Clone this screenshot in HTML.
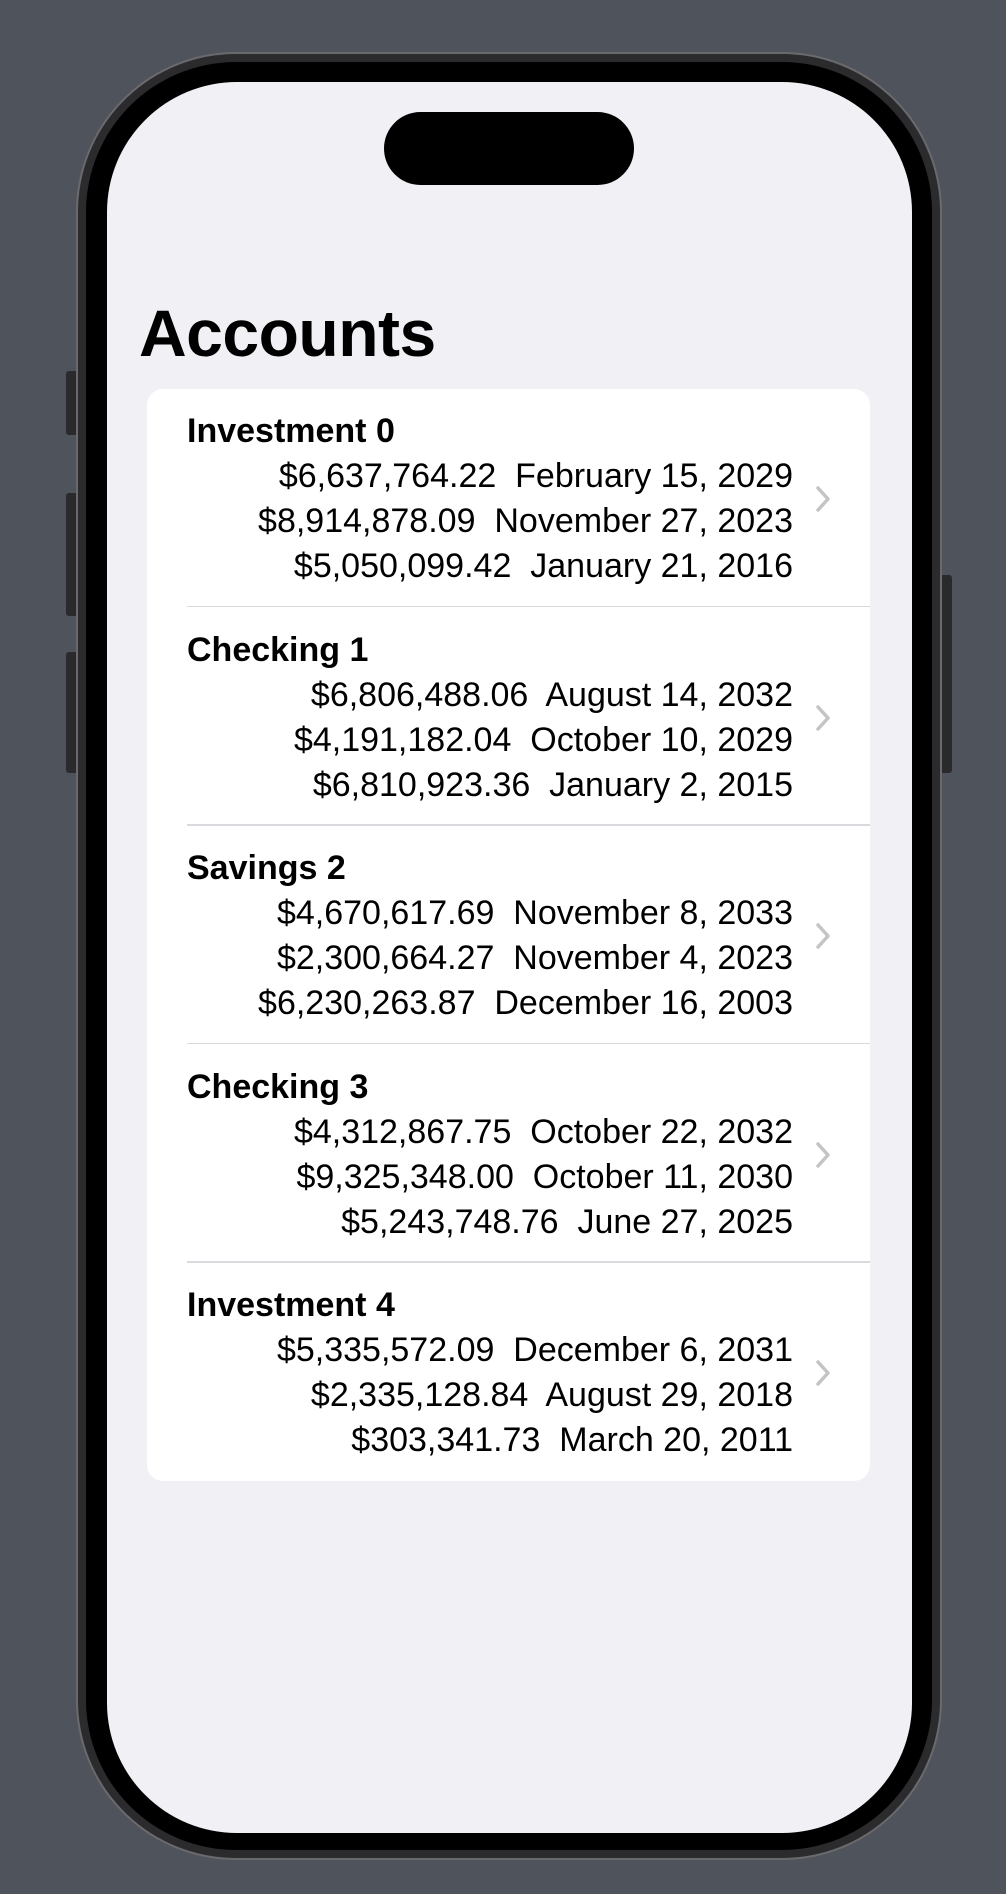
<!DOCTYPE html>
<html><head><meta charset="utf-8"><style>
*{margin:0;padding:0;box-sizing:border-box}
body{width:1006px;height:1894px;background:#4f535b;position:relative;overflow:hidden;font-family:"Liberation Sans",sans-serif;color:#000}
.abs{position:absolute}
.btn{position:absolute;background:#2a2a2c;border-radius:3px}
.row{position:absolute;left:0;width:723px;height:218px}
.name{position:absolute;left:40px;top:20px;font-size:34px;font-weight:bold;line-height:45px;white-space:nowrap}
.vals{position:absolute;right:77px;top:65px;font-size:34px;line-height:45px;text-align:right;white-space:pre}
.sep{position:absolute;left:40px;right:0;bottom:0;height:1.5px;background:#d9d9de}
.chev{position:absolute;left:667px;top:96px}
</style></head><body>
<div class="btn" style="left:66px;top:371px;width:12px;height:64px"></div>
<div class="btn" style="left:66px;top:493px;width:12px;height:123px"></div>
<div class="btn" style="left:66px;top:652px;width:12px;height:121px"></div>
<div class="btn" style="left:940px;top:575px;width:12px;height:198px"></div>
<div class="abs" style="left:76px;top:52px;width:866px;height:1808px;border-radius:160px;background:#2b2b2d;border:2px solid #6a6a6e"></div>
<div class="abs" style="left:86px;top:62px;width:846px;height:1788px;border-radius:150px;background:#000"></div>
<div class="abs" style="left:107px;top:82px;width:805px;height:1751px;border-radius:130px;background:#f0f0f5;overflow:hidden">
</div>
<div class="abs" style="left:384px;top:112px;width:250px;height:73px;border-radius:37px;background:#000"></div>
<div class="abs" style="left:139px;top:300px;font-size:66px;font-weight:bold;line-height:66px;letter-spacing:-0.5px">Accounts</div>
<div class="abs" style="left:147px;top:389px;width:723px;height:1092px;background:#fff;border-radius:16px;overflow:hidden">
  <div class="row" style="top:0">
    <div class="name">Investment 0</div>
    <div class="vals">$6,637,764.22  February 15, 2029
$8,914,878.09  November 27, 2023
$5,050,099.42  January 21, 2016</div>
    <svg class="chev" width="18" height="28" viewBox="0 0 18 28"><path d="M4 3 L14 14 L4 25" fill="none" stroke="#c4c4c7" stroke-width="3.5" stroke-linecap="round" stroke-linejoin="round"/></svg>
    <div class="sep"></div>
  </div>
  <div class="row" style="top:218.5px">
    <div class="name">Checking 1</div>
    <div class="vals">$6,806,488.06  August 14, 2032
$4,191,182.04  October 10, 2029
$6,810,923.36  January 2, 2015</div>
    <svg class="chev" width="18" height="28" viewBox="0 0 18 28"><path d="M4 3 L14 14 L4 25" fill="none" stroke="#c4c4c7" stroke-width="3.5" stroke-linecap="round" stroke-linejoin="round"/></svg>
    <div class="sep"></div>
  </div>
  <div class="row" style="top:437px">
    <div class="name">Savings 2</div>
    <div class="vals">$4,670,617.69  November 8, 2033
$2,300,664.27  November 4, 2023
$6,230,263.87  December 16, 2003</div>
    <svg class="chev" width="18" height="28" viewBox="0 0 18 28"><path d="M4 3 L14 14 L4 25" fill="none" stroke="#c4c4c7" stroke-width="3.5" stroke-linecap="round" stroke-linejoin="round"/></svg>
    <div class="sep"></div>
  </div>
  <div class="row" style="top:655.5px">
    <div class="name">Checking 3</div>
    <div class="vals">$4,312,867.75  October 22, 2032
$9,325,348.00  October 11, 2030
$5,243,748.76  June 27, 2025</div>
    <svg class="chev" width="18" height="28" viewBox="0 0 18 28"><path d="M4 3 L14 14 L4 25" fill="none" stroke="#c4c4c7" stroke-width="3.5" stroke-linecap="round" stroke-linejoin="round"/></svg>
    <div class="sep"></div>
  </div>
  <div class="row" style="top:874px">
    <div class="name">Investment 4</div>
    <div class="vals">$5,335,572.09  December 6, 2031
$2,335,128.84  August 29, 2018
$303,341.73  March 20, 2011</div>
    <svg class="chev" width="18" height="28" viewBox="0 0 18 28"><path d="M4 3 L14 14 L4 25" fill="none" stroke="#c4c4c7" stroke-width="3.5" stroke-linecap="round" stroke-linejoin="round"/></svg>
  </div>
</div>
</body></html>
